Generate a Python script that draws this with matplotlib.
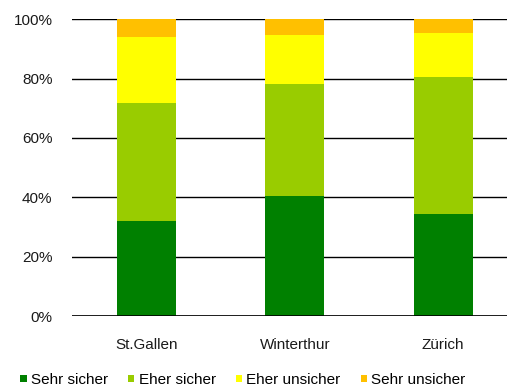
import numpy as np
import matplotlib
matplotlib.use("Agg")
import matplotlib.pyplot as plt
from matplotlib.ticker import PercentFormatter

plt.rcParams['font.family'] = ['Liberation Sans', 'DejaVu Sans']

cities = ["St.Gallen", "Winterthur", "Zürich"]
labels = ["Sehr sicher", "Eher sicher", "Eher unsicher", "Sehr unsicher"]
colors = ["#008000", "#99CC00", "#FFFF00", "#FFC000"]

sehr_sicher = [32.0, 40.5, 34.4]
eher_sicher = [39.9, 37.7, 46.1]
eher_unsicher = [22.2, 16.5, 14.8]
sehr_unsicher = [5.9, 5.3, 4.7]

fig = plt.figure(figsize=(5.07, 3.88), dpi=100)
ax = fig.add_axes([72 / 507, 72 / 388, 445.5 / 507, 296.7 / 388])

x = np.arange(len(cities))
bottom = np.zeros(len(cities))
handles = []
for vals, lab, col in zip([sehr_sicher, eher_sicher, eher_unsicher, sehr_unsicher], labels, colors):
    h = ax.bar(x, vals, width=0.396, bottom=bottom, color=col, label=lab, zorder=2)
    handles.append(h)
    bottom += np.array(vals)

ax.set_xlim(-0.5, 2.5)
ax.set_ylim(0, 100)
ax.set_yticks(np.arange(0, 101, 20))
ax.yaxis.set_major_formatter(PercentFormatter(decimals=0))
ax.grid(axis='y', color='black', linewidth=1.0, zorder=0)
ax.set_axisbelow(True)
for side in ['top', 'right', 'left', 'bottom']:
    ax.spines[side].set_visible(False)
ax.axhline(0, color='black', linewidth=1.2, zorder=3)
ax.set_xticks(x)
ax.set_xticklabels(cities)
ax.tick_params(axis='both', length=0, labelsize=11, colors='#1a1a1a')
ax.tick_params(axis='y', pad=14)
ax.tick_params(axis='x', pad=16)

fig.legend(handles=handles, labels=labels, loc='center', ncol=4,
           bbox_to_anchor=(243 / 507, 8 / 388), frameon=False, fontsize=11,
           handlelength=0.4, handleheight=0.4, handletextpad=0.3,
           columnspacing=1.3, borderpad=0, borderaxespad=0)

fig.savefig("out.png", dpi=100)
